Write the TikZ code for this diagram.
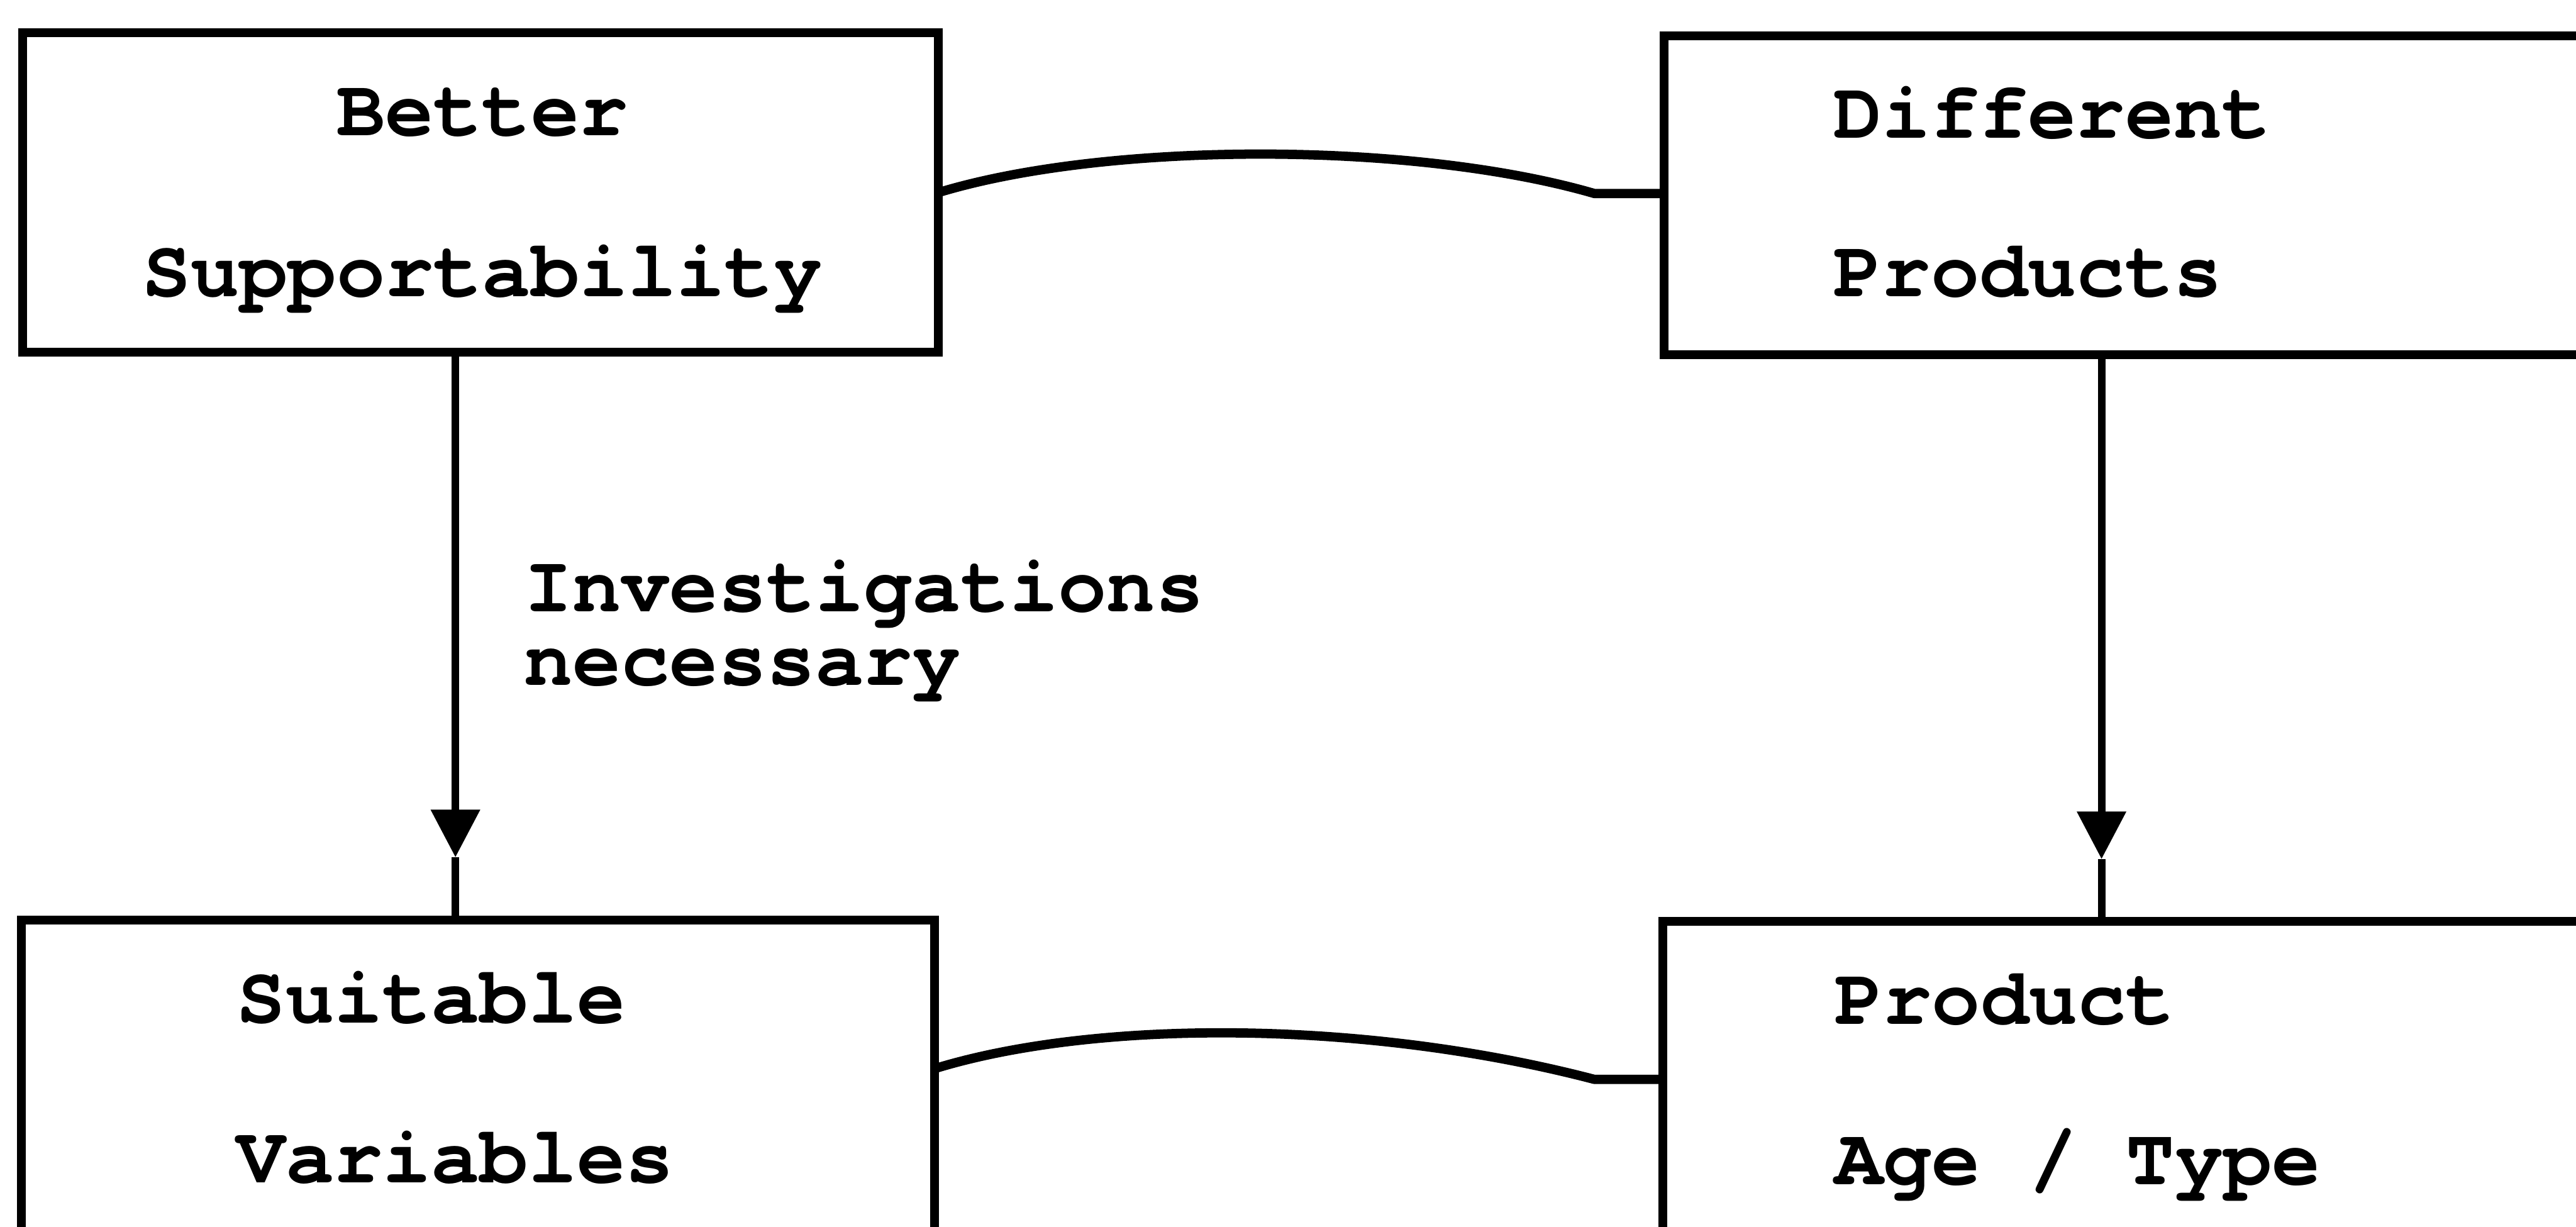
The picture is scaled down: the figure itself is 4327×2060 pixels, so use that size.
\documentclass[tikz,border=0pt]{standalone}
\usepackage{fontspec}
\setmainfont{texgyrecursor}[Extension=.otf, UprightFont=*-regular, BoldFont=*-bold, Ligatures=NoCommon]
\usetikzlibrary{arrows.meta,fit,calc}
\begin{document}
\begin{tikzpicture}[x=0.25pt,y=-0.25pt,
  box/.style={draw, line width=3.7pt, inner sep=0pt, outer sep=0pt, rectangle},
  txt/.style={font=\fontsize{34pt}{40pt}\selectfont\bfseries, inner sep=0pt, outer sep=0pt},
  link/.style={line width=3.9pt, line join=round},
  flow/.style={line width=3.2pt},
  head/.style={-{Triangle[width=20pt,length=20pt]}, line width=3.2pt}]
\useasboundingbox (0,0) rectangle (4327,2060);
\fill[white] (0,0) rectangle (4327,2060);
\clip (0,0) rectangle (4327,2060);

% the four boxes (right and lower ones run past the page edge)
\node[box, fit={(38,55) (1576,592)}] (better) {};
\node[box, fit={(2795,60) (4420,596)}] (diff) {};
\node[box, fit={(36,1545) (1570,2140)}] (suit) {};
\node[box, fit={(2793,1548) (4420,2140)}] (prod) {};

% box texts
\node[txt, anchor=base] (tBetter) at (810,228) {Better};
\node[txt, anchor=base] (tSupport) at (810,498) {Supportability};
\node[txt, anchor=base west] (tDiff) at (3080,232) {Different};
\node[txt, anchor=base west] (tProds) at (3080,498) {Products};
\node[txt, anchor=base west] (tSuit) at (398,1718) {Suitable};
\node[txt, anchor=base west] (tVar) at (398,1987) {Variables};
\node[txt, anchor=base west] (tProd) at (3082,1720) {Product};
\node[txt, anchor=base west] (tAge) at (3082,1990) {Age / Type};

% arrow label
\node[txt, anchor=base west] (tInv) at (880,1027) {Investigations};
\node[txt, anchor=base west] (tNec) at (880,1151) {necessary};

% vertical arrows with the head set just above the lower box
\coordinate (tipA) at (765,1440);
\draw[head] (better.south -| tipA) -- (tipA);
\draw[flow] (tipA) -- (suit.north -| tipA);

\coordinate (tipB) at (3530,1443);
\draw[head] (diff.south -| tipB) -- (tipB);
\draw[flow] (tipB) -- (prod.north -| tipB);

% curved links between the boxes
\coordinate (kA) at (2678,325);
\draw[link] (better.east) .. controls (1860,237) and (2375,237) .. (kA) -- (diff.west |- kA);

\coordinate (kB) at (2678,1813);
\draw[link] ($(suit.north east)+(0,250)$) .. controls (1840,1712) and (2291,1712) .. (kB) -- (prod.west |- kB);
\end{tikzpicture}
\end{document}
